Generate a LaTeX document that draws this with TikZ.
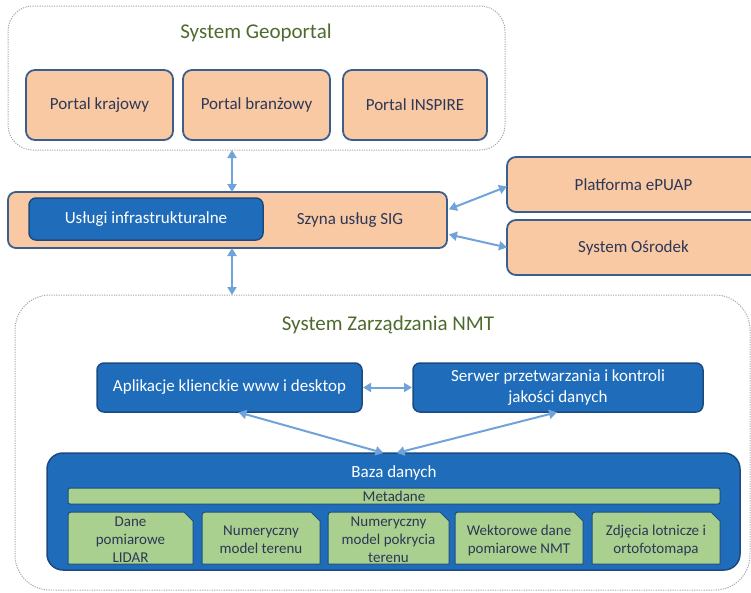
\documentclass[tikz,border=0pt]{standalone}
\usepackage{fontspec}
\setmainfont{Carlito}
\usetikzlibrary{arrows.meta,calc}
\definecolor{peach}{HTML}{F9C9A3}
\definecolor{obord}{HTML}{3A5E8E}
\definecolor{bfill}{HTML}{1F6DBA}
\definecolor{bbord}{HTML}{1B4A80}
\definecolor{gfill}{HTML}{A9D08E}
\definecolor{gbord}{HTML}{1F4E79}
\definecolor{dtext}{HTML}{2D3756}
\definecolor{ttext}{HTML}{4E6B2E}
\definecolor{arrowc}{HTML}{6FA3DA}
\definecolor{framegray}{HTML}{A8A8A8}
\begin{document}
\begin{tikzpicture}[x=1pt,y=-1pt,
  every node/.style={inner sep=0pt, outer sep=0pt, align=center},
  frame/.style={draw=framegray, line width=1pt, dash pattern=on 1.2pt off 1.2pt},
  title/.style={text=ttext, font=\fontsize{21}{24}\selectfont},
  obox/.style={draw=obord, fill=peach, line width=1.8pt, rounded corners=9pt, text=dtext, font=\fontsize{17}{20}\selectfont},
  bbox/.style={draw=bbord, fill=bfill, line width=1.5pt, rounded corners=7pt, text=white, font=\fontsize{17}{20}\selectfont},
  gshape/.style={draw=gbord, fill=gfill, line width=1pt},
  gtext/.style={text=dtext, font=\fontsize{15}{18}\selectfont},
  conn/.style={draw=arrowc, line width=2pt, {Triangle[length=8pt,width=9pt]}-{Triangle[length=8pt,width=9pt]}},
]
\useasboundingbox (0,0) rectangle (751,592);
\clip (0,0) rectangle (751,592);

% System Geoportal
\node[frame, rounded corners=25pt, minimum width=497, minimum height=144] (geo) at (256.5,78) {};
\node[title] (geot) at (256,33) {System Geoportal};
\node[obox, minimum width=147, minimum height=70] (pk) at (99.5,105) {Portal krajowy};
\node[obox, minimum width=147, minimum height=70] (pb) at (256.5,105) {Portal branżowy};
\node[obox, minimum width=144, minimum height=70] (pi) at (415,105) {Portal INSPIRE};

% Bus
\node[obox, rounded corners=8pt, minimum width=439, minimum height=56] (bus) at (227.5,220) {};
\node[bbox, minimum width=234, minimum height=42] (usl) at (146,219) {Usługi infrastrukturalne};
\node[text=dtext, font=\fontsize{17}{20}\selectfont] (szyna) at (350,220) {Szyna usług SIG};

% External systems
\node[obox, minimum width=253, minimum height=55] (ep) at (633.5,184.5) {Platforma ePUAP};
\node[obox, minimum width=253, minimum height=55] (os) at (633.5,247.5) {System Ośrodek};

% System Zarzadzania NMT
\node[frame, rounded corners=35pt, minimum width=735, minimum height=295] (nmt) at (382.5,442.5) {};
\node[title] (nmtt) at (388,325) {System Zarządzania NMT};
\node[bbox, minimum width=265, minimum height=49] (ap) at (229.5,387.5) {Aplikacje klienckie www i desktop};
\node[bbox, minimum width=290, minimum height=49, font=\fontsize{17}{21}\selectfont] (sv) at (558,387.5) {Serwer przetwarzania i kontroli\\jakości danych};

% Baza danych
\node[bbox, rounded corners=16pt, minimum width=693, minimum height=117] (baza) at (393.5,511.5) {};
\node[text=white, font=\fontsize{17}{20}\selectfont] (bazat) at (394,473) {Baza danych};
\node[gshape, rounded corners=2pt, minimum width=652, minimum height=16, gtext] (meta) at (394,496) {Metadane};

% Data boxes
\foreach \n/\cx/\w in {d1/130.5/125, d2/261/118, d3/388.5/121, d4/519/128, d5/656/128}{
  \node[minimum width=\w, minimum height=52] (\n) at (\cx,538) {};
  \draw[gshape] (\n.south west) -- ([yshift=-7pt]\n.north west)
     .. controls (\n.north west) .. ([xshift=7pt]\n.north west)
     -- ([xshift=-9pt]\n.north east) -- ([yshift=-9pt]\n.north east)
     -- (\n.south east) -- cycle;
}
\node[gtext] (d1t) at ([yshift=-2pt]d1.center) {Dane\\pomiarowe\\LIDAR};
\node[gtext] (d2t) at ([yshift=-2pt]d2.center) {Numeryczny\\model terenu};
\node[gtext] (d3t) at ([yshift=-2pt]d3.center) {Numeryczny\\model pokrycia\\terenu};
\node[gtext] (d4t) at ([yshift=-2pt]d4.center) {Wektorowe dane\\pomiarowe NMT};
\node[gtext] (d5t) at ([yshift=-2pt]d5.center) {Zdjęcia lotnicze i\\ortofotomapa};

% Connectors
\coordinate (ax) at (232,0);
\draw[conn] (ax |- geo.south) -- (ax |- bus.north);
\draw[conn] (ax |- bus.south) -- (ax |- nmt.north);
\draw[conn, shorten <=2pt] ([yshift=10pt]bus.east) -- ([yshift=-2pt]ep.west);
\draw[conn, shorten <=2pt] ([yshift=-14pt]bus.east) -- (os.west);
\draw[conn, shorten <=1pt, shorten >=1pt] (ap.east) -- (sv.west);
\draw[conn, shorten <=1pt] ([xshift=8pt]ap.south) -- ([xshift=-10pt]baza.north);
\draw[conn, shorten <=1pt] (sv.south) -- ([xshift=3pt]baza.north);
\end{tikzpicture}
\end{document}
